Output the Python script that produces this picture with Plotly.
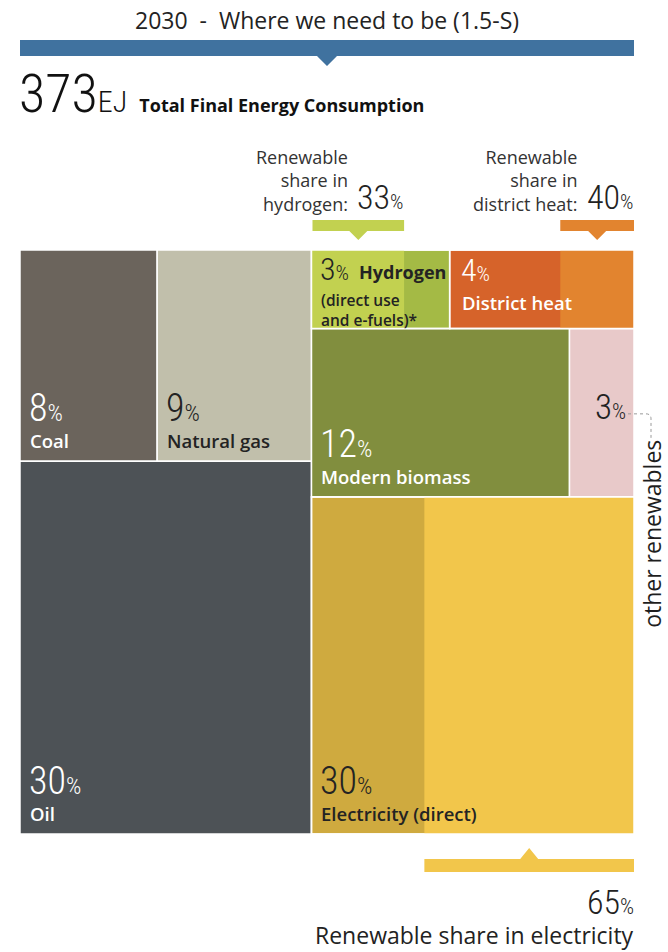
import plotly.graph_objects as go

# ---- data -------------------------------------------------------------
categories = ["Coal", "Natural gas", "Oil", "Hydrogen", "District heat",
              "Modern biomass", "Other renewables", "Electricity (direct)"]
shares = [8, 9, 30, 3, 4, 12, 3, 30]          # % of total final energy consumption
total_fec_ej = 373
year_label = "2030  -  Where we need to be (1.5-S)"

renewable_share_hydrogen = 33                 # %
renewable_share_district_heat = 40            # %
renewable_share_electricity = 65              # %

# ---- styling ------------------------------------------------------------
W, H = 668, 952
FX0, FX1, FY0, FY1 = 20, 634, 250, 834         # treemap frame on the page

NUM = "Roboto Condensed, DejaVu Sans Condensed, sans-serif"
LAB = "Open Sans, Noto Sans, sans-serif"
DARK = "#232323"

C_COAL = "#6b645c"
C_GAS = "#c1bfab"
C_OIL = "#4d5256"
C_H2_A, C_H2_B = "#c2d150", "#a4ba45"
C_DH_A, C_DH_B = "#d6632a", "#e2842f"
C_BIO = "#818e3e"
C_OTH = "#e8c9c9"
C_EL_A, C_EL_B = "#cfaa3f", "#f2c64b"
C_BLUE = "#40729f"

val = dict(zip(categories, shares))

# ---- treemap geometry derived from the shares --------------------------
total = sum(shares)
left_total = val["Coal"] + val["Natural gas"] + val["Oil"]
right_total = total - left_total
FW, FH = FX1 - FX0, FY1 - FY0
xs = FX0 + FW * left_total / total

rects = {}
# left column: coal | gas on top, oil below
ytop = FY0 + FH * (val["Coal"] + val["Natural gas"]) / left_total
xcoal = FX0 + (xs - FX0) * val["Coal"] / (val["Coal"] + val["Natural gas"])
rects["Coal"] = (FX0, FY0, xcoal, ytop)
rects["Natural gas"] = (xcoal, FY0, xs, ytop)
rects["Oil"] = (FX0, ytop, xs, FY1)
# right column: hydrogen | district heat, biomass | other, electricity
r1 = FY0 + FH * (val["Hydrogen"] + val["District heat"]) / right_total
r2 = r1 + FH * (val["Modern biomass"] + val["Other renewables"]) / right_total
xh = xs + (FX1 - xs) * val["Hydrogen"] / (val["Hydrogen"] + val["District heat"])
xb = xs + (FX1 - xs) * val["Modern biomass"] / (val["Modern biomass"] + val["Other renewables"])
rects["Hydrogen"] = (xs, FY0, xh, r1)
rects["District heat"] = (xh, FY0, FX1, r1)
rects["Modern biomass"] = (xs, r1, xb, r2)
rects["Other renewables"] = (xb, r1, FX1, r2)
rects["Electricity (direct)"] = (xs, r2, FX1, FY1)

shapes = []
annotations = []


def box(x0, y0, x1, y1, color, border=True):
    shapes.append(dict(type="rect", xref="x", yref="y", x0=x0, y0=y0, x1=x1, y1=y1,
                       fillcolor=color, line=dict(color="white", width=1.5 if border else 0),
                       layer="below"))


def text(x, y, s, size, color=DARK, family=LAB, xa="left", ya="middle", weight=None, angle=0):
    f = dict(size=size, color=color, family=family)
    if weight:
        f["weight"] = weight
    annotations.append(dict(x=x, y=y, xref="x", yref="y", text=s, showarrow=False,
                            xanchor=xa, yanchor=ya, font=f, textangle=angle, align=xa,
                            borderpad=0))


def pct(v, small):
    return f"{v}<span style='font-size:{small}px'>%</span>"


# plain cells
box(*rects["Coal"], C_COAL)
box(*rects["Natural gas"], C_GAS)
box(*rects["Oil"], C_OIL)
box(*rects["Modern biomass"], C_BIO)
box(*rects["Other renewables"], C_OTH)

# cells split by renewable share
hx0, hy0, hx1, hy1 = rects["Hydrogen"]
hsplit = hx0 + (hx1 - hx0) * (100 - renewable_share_hydrogen) / 100
box(hx0, hy0, hx1, hy1, C_H2_B)
box(hx0, hy0, hsplit, hy1, C_H2_A, border=False)
box(hx0, hy0, hx1, hy1, "rgba(0,0,0,0)")

dx0, dy0, dx1, dy1 = rects["District heat"]
dsplit = dx0 + (dx1 - dx0) * (100 - renewable_share_district_heat) / 100
box(dx0, dy0, dx1, dy1, C_DH_A)
box(dsplit, dy0, dx1, dy1, C_DH_B, border=False)
box(dx0, dy0, dx1, dy1, "rgba(0,0,0,0)")

ex0, ey0, ex1, ey1 = rects["Electricity (direct)"]
esplit = ex0 + (ex1 - ex0) * (100 - renewable_share_electricity) / 100
box(ex0, ey0, ex1, ey1, C_EL_A)
box(esplit, ey0, ex1, ey1, C_EL_B, border=False)
box(ex0, ey0, ex1, ey1, "rgba(0,0,0,0)")


def bracket(xa, xb, y_bar, color, down=True):
    """Flat bar with a small triangular pointer at its middle."""
    mid = (xa + xb) / 2
    if down:
        shapes.append(dict(type="path", xref="x", yref="y",
                           path=f"M{xa},{y_bar} L{xb},{y_bar} L{xb},{y_bar+11} L{mid+9},{y_bar+11} "
                                f"L{mid},{y_bar+20} L{mid-9},{y_bar+11} L{xa},{y_bar+11} Z",
                           fillcolor=color, line=dict(width=0)))
    else:
        shapes.append(dict(type="path", xref="x", yref="y",
                           path=f"M{xa},{y_bar+13} L{xb},{y_bar+13} L{xb},{y_bar} L{mid+9},{y_bar} "
                                f"L{mid},{y_bar-11} L{mid-9},{y_bar} L{xa},{y_bar} Z",
                           fillcolor=color, line=dict(width=0)))


bracket(hx0 + 1, hsplit, 220, C_H2_A)
bracket(dsplit, dx1, 220, C_DH_B)
bracket(esplit, ex1, 859, C_EL_B, down=False)

# header bar with pointer
mid_all = (FX0 + FX1) / 2
shapes.append(dict(type="path", xref="x", yref="y",
                   path=f"M{FX0},40 L{FX1},40 L{FX1},56 L{mid_all+10},56 L{mid_all},66 "
                        f"L{mid_all-10},56 L{FX0},56 Z",
                   fillcolor=C_BLUE, line=dict(width=0)))

# ---- texts ---------------------------------------------------------------
text(mid_all, 20, year_label, 23, DARK, LAB, xa="center", weight=500)
text(FX0 - 2, 93,
     f"{total_fec_ej}<span style='font-size:30px'>EJ</span> "
     f"<span style='font-size:18px;font-family:Open Sans;font-weight:700'>"
     f"Total Final Energy Consumption</span>",
     54, "#111", NUM, weight=300)

# renewable share headers
text(hsplit - 55, 180, "Renewable<br>share in<br>hydrogen:", 18, "#333", LAB, xa="right", weight=400)
text(hsplit + 1, 197, pct(renewable_share_hydrogen, 21), 34, "#222", NUM, xa="right", weight=300)
text(dx1 - 56, 180, "Renewable<br>share in<br>district heat:", 18, "#333", LAB, xa="right", weight=400)
text(dx1 + 1, 197, pct(renewable_share_district_heat, 21), 34, "#222", NUM, xa="right", weight=300)


# cell labels: value above name, anchored to the lower left corner
def cell_label(name, shown, color):
    x0, y0, x1, y1 = rects[name]
    text(x0 + 8, y1 - 53, pct(val[name], 24), 38, color, NUM, weight=300)
    text(x0 + 9, y1 - 21, shown, 18.5, color, LAB, weight=600)


cell_label("Coal", "Coal", "white")
cell_label("Natural gas", "Natural gas", DARK)
cell_label("Oil", "Oil", "white")
cell_label("Modern biomass", "Modern biomass", "white")
cell_label("Electricity (direct)", "Electricity (direct)", DARK)

# top row cells, anchored to the upper left corner
text(hx0 + 8, hy0 + 19, pct(val["Hydrogen"], 21), 32, DARK, NUM, weight=300)
text(hx0 + 47, hy0 + 22, "Hydrogen", 18, DARK, LAB, weight=700)
text(hx0 + 9, hy0 + 60, "(direct use<br>and e-fuels)*", 15.5, DARK, LAB, weight=600)
text(dx0 + 10, hy0 + 20, pct(val["District heat"], 21), 32, "white", NUM, weight=300)
text(dx0 + 11, hy0 + 52, "District heat", 18.5, "white", LAB, weight=600)

# other renewables with dotted leader to its vertical caption
ox0, oy0, ox1, oy1 = rects["Other renewables"]
oy = (oy0 + oy1) / 2 - 5
text(ox1 - 7, oy, pct(val["Other renewables"], 22), 35, "#222", NUM, xa="right", weight=300)
shapes.append(dict(type="path", xref="x", yref="y",
                   path=f"M{ox1-6},{oy+6} L{ox1+12},{oy+6} Q{ox1+17},{oy+6} {ox1+17},{oy+11} L{ox1+17},{oy+30}",
                   line=dict(color="#9a9a9a", width=1, dash="dot")))
text(ox1 + 18, oy + 126, "other renewables", 23, "#1e1e1e", LAB, xa="center", angle=-90, weight=500)

# electricity renewable share footer
text(ex1 + 1, 902, pct(renewable_share_electricity, 22), 34, "#222", NUM, xa="right", weight=300)
text(ex1 + 1, 935, "Renewable share in electricity", 23, "#222", LAB, xa="right", weight=400)

fig = go.Figure()
fig.update_layout(
    width=W, height=H, margin=dict(l=0, r=0, t=0, b=0),
    paper_bgcolor="white", plot_bgcolor="white",
    xaxis=dict(range=[0, W], visible=False, fixedrange=True),
    yaxis=dict(range=[H, 0], visible=False, fixedrange=True),
    shapes=shapes, annotations=annotations, showlegend=False,
)
fig.write_html("out.html")
